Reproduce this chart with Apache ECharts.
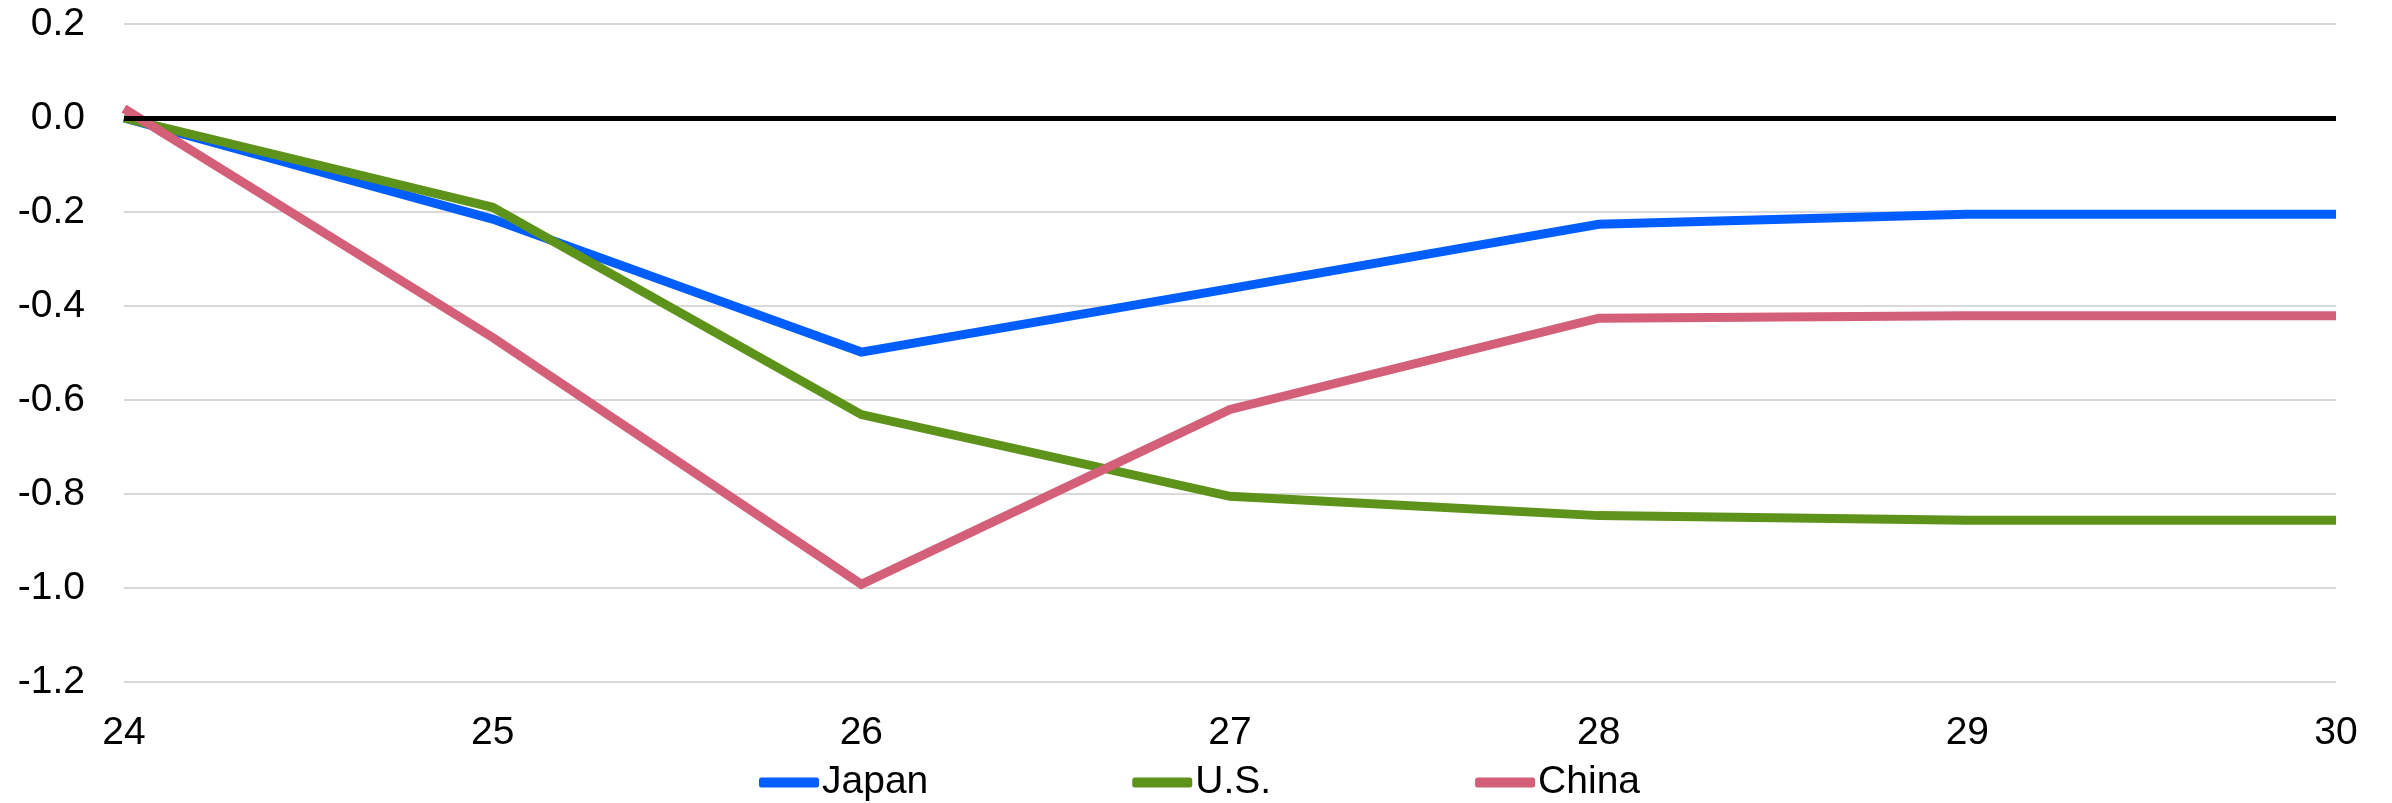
<!DOCTYPE html>
<html>
<head>
<meta charset="utf-8">
<script src="https://cdn.jsdelivr.net/npm/echarts@6/dist/echarts.min.js"></script>
<style>
  html, body { margin: 0; padding: 0; background: #ffffff; }
  #chart { width: 2392px; height: 803px; }
</style>
</head>
<body>
<div id="chart"></div>
<script>
// Years (two-digit) along the horizontal axis
const years = ['24', '25', '26', '27', '28', '29', '30'];

// Deviation from baseline, by economy
const japan = [0.0, -0.215, -0.498, -0.363, -0.226, -0.205, -0.205];
const us    = [0.0, -0.19, -0.631, -0.805, -0.846, -0.856, -0.856];
const china = [0.02, -0.467, -0.992, -0.62, -0.426, -0.421, -0.421];

// Vertical axis range
const yMin = -1.2;
const yMax = 0.2;
const yStep = 0.2;

const FONT = '"Liberation Sans", Arial, sans-serif';

const chart = echarts.init(document.getElementById('chart'), null, { renderer: 'canvas' });

function lineSeries(name, data, color, extra) {
  return Object.assign({
    name: name,
    type: 'line',
    data: data,
    showSymbol: false,
    symbol: 'none',
    lineStyle: { color: color, width: 9, cap: 'butt', join: 'miter' },
    itemStyle: { color: color },
    emphasis: { disabled: true },
    animation: false
  }, extra || {});
}

chart.setOption({
  backgroundColor: '#ffffff',
  animation: false,
  textStyle: { fontFamily: FONT },
  grid: { left: 124, right: 56, top: 24, bottom: 121, containLabel: false },
  legend: {
    left: 754,
    top: 758,
    itemGap: 204,
    itemWidth: 60,
    itemHeight: 10,
    icon: 'roundRect',
    textStyle: { fontFamily: FONT, fontSize: 39, color: '#000000', padding: [0, 0, 0, -2], lineHeight: 39 },
    data: ['Japan', 'U.S.', 'China']
  },
  xAxis: {
    type: 'category',
    data: years,
    boundaryGap: false,
    axisLine: { show: false },
    axisTick: { show: false },
    splitLine: { show: false },
    axisLabel: { fontFamily: FONT, fontSize: 39, color: '#000000', margin: 32 }
  },
  yAxis: {
    type: 'value',
    min: yMin,
    max: yMax,
    interval: yStep,
    axisLine: { show: false },
    axisTick: { show: false },
    splitLine: { show: true, lineStyle: { color: '#d9d9d9', width: 2 } },
    axisLabel: {
      fontFamily: FONT,
      fontSize: 39,
      color: '#000000',
      margin: 39,
      formatter: function (v) { return v.toFixed(1); }
    }
  },
  series: [
    lineSeries('Japan', japan, '#005eff'),
    lineSeries('U.S.', us, '#5e931b'),
    lineSeries('China', china, '#d45f78', {
      markLine: {
        silent: true,
        symbol: 'none',
        label: { show: false },
        lineStyle: { color: '#000000', width: 5, type: 'solid' },
        data: [{ yAxis: 0 }],
        animation: false
      }
    })
  ]
});
</script>
</body>
</html>
